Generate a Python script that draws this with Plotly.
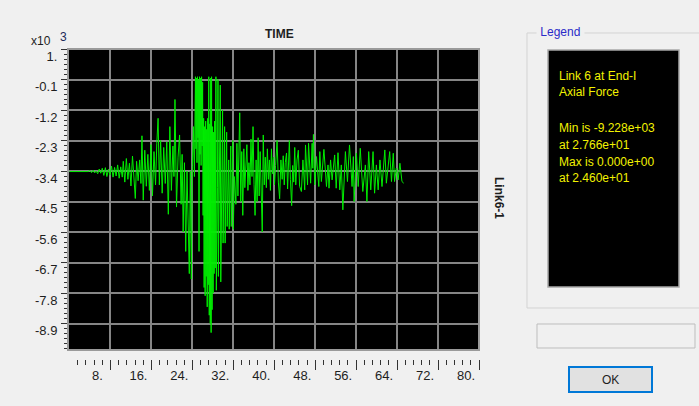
import plotly.graph_objects as go

# ---- Link 6, End-I axial force history (units of 10^3) ----
quiet_t = [0.0, 3.6, 4.0, 4.3, 4.6, 4.9, 5.2, 5.5, 5.8, 6.1, 6.4, 6.7, 7.0, 7.3,
           7.6, 7.9, 8.2, 8.5, 8.8, 9.1, 9.4, 9.7, 10.0, 10.3]
quiet_f = [-3.42, -3.42, -3.38, -3.46, -3.37, -3.47, -3.40, -3.50, -3.33, -3.48,
           -3.30, -3.56, -3.28, -3.60, -3.34, -3.55, -3.22, -3.62, -3.27, -3.58,
           -3.18, -3.66, -3.25, -3.62]

build_t = [10.5, 10.8, 11.1, 11.4, 11.7, 12.0, 12.3, 12.6, 12.85, 13.1,
           13.4, 13.7, 13.95, 14.15, 14.4, 14.7, 15.0, 15.3, 15.6, 15.9,
           16.2, 16.5, 16.8, 17.05, 17.3, 17.55, 17.8, 18.1, 18.4, 18.7,
           19.0, 19.3, 19.6, 19.9, 20.2, 20.4, 20.6, 20.9, 21.2, 21.5,
           21.8, 22.0, 22.2, 22.45, 22.7, 22.95, 23.2, 23.4, 23.6, 23.8,
           24.0, 24.2, 24.4]
build_f = [-3.05, -3.80, -2.95, -3.70, -3.12, -3.94, -2.86, -3.70, -4.39, -3.05,
           -3.75, -3.00, -3.85, -2.13, -4.45, -2.65, -3.95, -2.80, -4.10, -2.45,
           -4.30, -2.70, -3.90, -2.40, -1.50, -3.90, -2.30, -4.20, -2.55, -3.85,
           -2.35, -4.96, -1.80, -4.10, -2.50, -3.60, -0.82, -4.70, -2.90, -2.10,
           -4.60, -2.80, -5.60, -3.10, -6.30, -3.40, -5.20, -7.10, -3.40, -7.30,
           -3.20, -1.80, -3.60]

strong_t = [24.6, 24.7, 24.8, 24.9, 25.0, 25.1, 25.2, 25.3, 25.4, 25.5,
            25.6, 25.7, 25.8, 25.9, 26.0, 26.1, 26.2, 26.3, 26.4, 26.5,
            26.6, 26.7, 26.8, 26.9, 27.0, 27.1, 27.2, 27.3, 27.4, 27.5,
            27.58, 27.66, 27.75, 27.85, 27.95, 28.05, 28.15, 28.25, 28.35, 28.45,
            28.6, 28.68, 28.9, 29.0, 29.08, 29.35, 29.45, 29.55, 29.8, 29.9,
            30.0, 30.2, 30.3, 30.4, 30.6, 30.7, 30.8, 31.0, 31.1, 31.2,
            31.4, 31.5, 31.6, 31.8, 31.9, 32.0, 32.2]
strong_f = [0.0, -2.6, -0.05, -3.1, 0.0, -2.2, -0.1, -6.3, 0.0, -2.8,
            -0.05, -3.2, 0.0, -2.5, -0.2, -5.0, -1.5, -7.6, -1.8, -7.9,
            -1.6, -7.2, -1.9, -8.3, -1.5, -7.5, 0.0, -8.6, -1.7, -8.9,
            -0.05, -9.228, 0.0, -8.4, -1.8, -7.8, -2.0, -7.1, -1.6, -6.9,
            0.0, -7.7, -4.0, -0.1, -7.2, -3.5, -0.3, -7.4, -3.8, -1.2,
            -6.0, -3.5, -1.8, -6.0, -3.2, -2.0, -5.4, -3.8, -3.0, -5.5,
            -3.4, -2.5, -5.4, -3.6, -2.3, -5.5, -3.6]

tail_t = [32.5, 32.7, 32.9, 33.05, 33.25, 33.45, 33.65, 33.85, 34.05, 34.25,
          34.45, 34.65, 34.85, 35.05, 35.25, 35.45, 35.65, 35.85, 36.05, 36.25,
          36.45, 36.65, 36.85, 37.05, 37.25, 37.45, 37.65, 37.85, 38.05, 38.25,
          38.45, 38.65, 38.85, 39.05, 39.25, 39.45, 39.65, 39.85, 40.05, 40.25,
          40.55, 40.8, 41.05, 41.3, 41.55, 41.75, 41.95, 42.15, 42.4, 42.6,
          42.8, 42.95, 43.15, 43.4, 43.6, 43.8, 44.0, 44.2, 44.45, 44.7,
          44.95, 45.3, 45.6, 45.95, 46.1, 46.5, 46.7, 47.1, 47.4, 47.52,
          47.65, 47.9, 48.25, 48.5, 48.7, 48.9, 49.2, 49.7, 50.2, 50.5,
          50.7, 51.0, 51.3, 51.8, 52.1, 52.45, 52.8, 53.1, 53.4, 53.9,
          54.3, 54.7, 55.2, 55.45, 55.6, 56.05, 56.4, 56.8, 57.3, 57.8,
          58.1, 58.45, 58.85, 59.3, 59.6, 59.95, 60.3, 60.65, 61.05, 61.6,
          61.9, 62.55, 62.9, 63.25, 63.5, 63.85, 64.2, 64.55, 64.95, 65.3]
tail_f = [-4.6, -2.4, -4.3, -3.0, -1.3, -4.5, -2.7, -5.0, -2.6, -4.0,
          -2.9, -2.45, -4.1, -3.1, -3.9, -2.25, -3.6, -1.8, -3.9, -5.0,
          -3.0, -4.5, -2.2, -4.3, -2.7, -3.8, -5.6, -2.1, -3.9, -2.9,
          -4.0, -2.6, -3.7, -3.0, -4.1, -2.6, -3.5, -2.9, -3.9, -3.2,
          -2.3, -3.8, -4.4, -3.0, -3.7, -2.85, -3.9, -3.1, -2.75, -4.05,
          -2.8, -2.3, -3.7, -4.65, -3.2, -3.8, -2.55, -3.9, -3.0, -2.65,
          -3.95, -4.14, -3.0, -4.08, -2.46, -3.9, -2.40, -3.84, -2.40, -3.3,
          -2.08, -3.90, -2.88, -3.6, -3.96, -2.70, -3.78, -2.62, -3.96, -3.18,
          -4.02, -3.0, -3.72, -2.82, -4.02, -2.74, -4.08, -3.18, -4.80, -2.70,
          -3.78, -2.46, -3.96, -2.88, -4.5, -2.76, -3.96, -2.58, -4.14, -3.18,
          -4.5, -2.70, -4.08, -2.70, -4.2, -3.18, -4.08, -3.0, -3.96, -2.64,
          -3.84, -2.70, -3.78, -2.76, -3.78, -3.30, -3.72, -3.12, -3.78, -3.84]

y_ticks = [1.0, -0.1, -1.2, -2.3, -3.4, -4.5, -5.6, -6.7, -7.8, -8.9]
y_labels = ["1.", "-0.1", "-1.2", "-2.3", "-3.4", "-4.5", "-5.6", "-6.7", "-7.8", "-8.9"]
x_ticks = [8, 16, 24, 32, 40, 48, 56, 64, 72, 80]
x_labels = ["8.", "16.", "24.", "32.", "40.", "48.", "56.", "64.", "72.", "80."]

time_s = quiet_t + build_t + strong_t + tail_t
force = quiet_f + build_f + strong_f + tail_f

i_min = min(range(len(force)), key=lambda i: force[i])
i_max = max(range(len(force)), key=lambda i: (force[i], -i))

legend_lines = [
    "Link 6 at End-I",
    "Axial Force",
    f"Min is {force[i_min] * 1000:.3e}",
    f"at {time_s[i_min]:.3e}",
    f"Max is {abs(force[i_max] * 1000):.3e}",
    f"at {time_s[i_max]:.3e}",
]

W, H = 699, 406
L, R, T, B = 68, 479, 49, 359          # plot-area pixel box (incl. tick strip)
FONT = "Liberation Sans, Arial, sans-serif"


def px(x, y):
    return (x - L) / (R - L), (B - y) / (B - T)


fig = go.Figure()
fig.add_trace(go.Scatter(x=time_s, y=force, mode="lines",
                         line=dict(color="#00ee00", width=1),
                         hoverinfo="skip", showlegend=False))

y_minor = [round(1.0 - k * 1.1 / 6, 4) for k in range(1, 60) if k % 6]
x_minor = [round(k * 1.6, 2) for k in range(1, 50) if k % 5]

fig.update_layout(
    width=W, height=H,
    margin=dict(l=L, r=W - R, t=T, b=H - B, pad=0),
    paper_bgcolor="#f0f0f0",
    plot_bgcolor="#000000",
    font=dict(family=FONT, size=12, color="#1e1e1e"),
    showlegend=False,
    xaxis=dict(
        range=[-0.3, 80], anchor="free", position=0,
        tickvals=x_ticks, ticktext=x_labels,
        ticks="outside", ticklen=10, tickwidth=1, tickcolor="#333333",
        showline=False, zeroline=False,
        showgrid=True, gridcolor="#858585", gridwidth=1.6,
        ticklabelshift=-13, ticklabelstandoff=-6,
        tickfont=dict(family=FONT, size=13, color="#1e1e1e"),
        minor=dict(tickvals=x_minor, ticks="outside", ticklen=5,
                   tickwidth=1, tickcolor="#333333", showgrid=False),
    ),
    yaxis=dict(
        domain=[9 / (B - T), 1], range=[-9.855, 1.0],
        tickvals=y_ticks, ticktext=y_labels,
        ticks="outside", ticklen=6, tickwidth=1, tickcolor="#333333",
        showline=True, linecolor="#b0b0b0", linewidth=1,
        zeroline=False,
        showgrid=True, gridcolor="#858585", gridwidth=1.6,
        ticklabelshift=7, ticklabelstandoff=1,
        tickfont=dict(family=FONT, size=13, color="#1e1e1e"),
        minor=dict(tickvals=y_minor, ticks="outside", ticklen=3,
                   tickwidth=1, tickcolor="#333333", showgrid=False),
    ),
)

# plot frame
fig.add_shape(type="rect", xref="x domain", yref="y domain",
              x0=0, x1=1, y0=0, y1=1, line=dict(color="#9a9a9a", width=2))


def rect(x0, y0, x1, y1, fill, line, width=1):
    a0, b0 = px(x0, y0)
    a1, b1 = px(x1, y1)
    fig.add_shape(type="rect", xref="paper", yref="paper", x0=a0, x1=a1,
                  y0=b1, y1=b0, fillcolor=fill, line=dict(color=line, width=width),
                  layer="above")


def text(x, y, s, size=12, color="#1e1e1e", anchor="center", bold=False,
         angle=0, bg=None):
    a, b = px(x, y)
    fig.add_annotation(xref="paper", yref="paper", x=a, y=b, text=f"<b>{s}</b>" if bold else s,
                       showarrow=False, xanchor=anchor, yanchor="middle",
                       textangle=angle, bgcolor=bg, borderpad=0,
                       font=dict(family=FONT, size=size, color=color))


# titles
text(41, 41, "x10", size=12)
text(63, 37, "3", size=12, color="#1a2a5a")
text(279, 34, "TIME", size=12, bold=True)
text(499, 198, "Link6-1", size=12, bold=True, angle=90)

# legend panel
rect(527, 33, 705, 308, "rgba(0,0,0,0)", "#d3d3d3")
text(536, 32, " Legend ", size=12, color="#2b2bc8", anchor="left", bg="#f0f0f0")
rect(548, 50, 679, 287, "#000000", "#a8a8a8", 1.5)
ys = [76, 92, 128, 145, 162, 178]
for yy, s in zip(ys, legend_lines):
    text(558, yy, s, size=12, color="#f2f200", anchor="left")

# status box and OK button
rect(537, 324, 695, 348, "#f0f0f0", "#bdbdbd")
rect(569, 367, 652, 392, "#e1e1e1", "#0078d7", 2)
text(610.5, 380, "OK", size=12)

fig.write_html("out.html")
